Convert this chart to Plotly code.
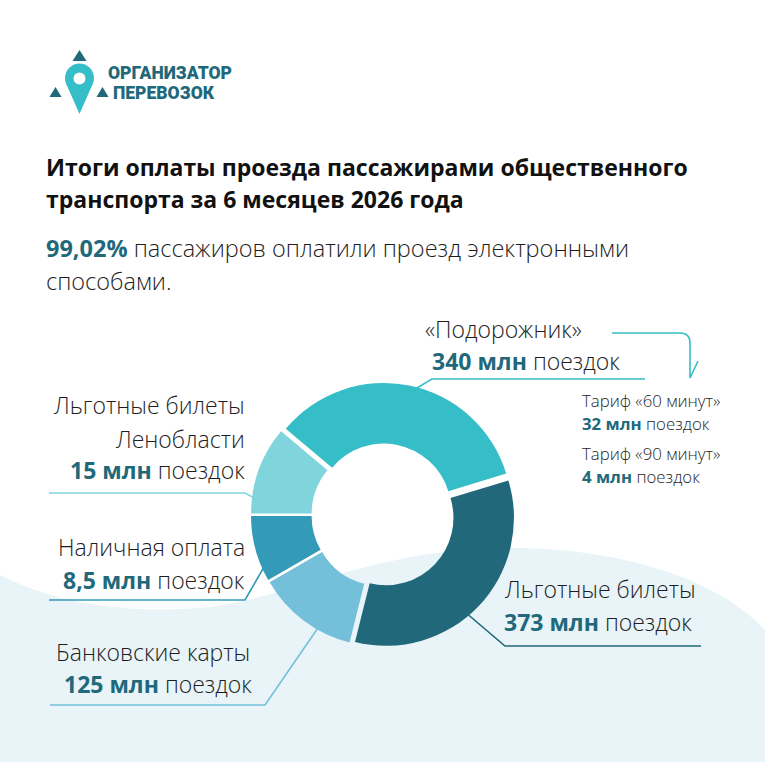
import plotly.graph_objects as go

# ---- data ----
categories = ["«Подорожник»", "Льготные билеты", "Банковские карты",
              "Наличная оплата", "Льготные билеты Ленобласти"]
trips_mln = ["340", "373", "125", "8,5", "15"]          # label values (млн поездок)
slice_share_deg = [123, 121, 46, 30, 40]                # slice sizes as drawn in the picture
tariff_names = ["Тариф «60 минут»", "Тариф «90 минут»"]
tariff_trips = ["32", "4"]
electronic_share = "99,02%"

colors = ["#35BEC8", "#21697A", "#74BFD9", "#339AB7", "#80D5DD"]
DARK = "#21697A"
TXT = "#1e1e1e"
W, H = 765, 762

fig = go.Figure()
# invisible trace so the pixel-based cartesian axes exist
fig.add_trace(go.Scatter(x=[0], y=[0], mode="markers", marker=dict(opacity=0),
                         hoverinfo="skip", showlegend=False))

cx, cy, r0, pull = 383, 515, 128, 0.032
half = r0 * (1 + pull)
fig.add_trace(go.Pie(
    labels=categories, values=slice_share_deg, sort=False, direction="clockwise",
    rotation=-50, hole=0.527, pull=[pull] * 5, textinfo="none",
    marker=dict(colors=colors, line=dict(width=0)),
    domain=dict(x=[(cx - half) / W, (cx + half) / W],
                y=[(H - cy - half) / H, (H - cy + half) / H]),
    showlegend=False, hoverinfo="label"))

shapes = []
# background wave
shapes.append(dict(type="path", layer="below", xref="x", yref="y",
                   path="M 0 575 C 50 600 110 614 200 608 C 280 602 370 550 500 548 "
                        "C 620 546 720 580 765 630 L 765 762 L 0 762 Z",
                   fillcolor="#E8F4F7", line=dict(width=0)))

def line(pts, color, width=1.6):
    p = "M " + " L ".join(f"{x} {y}" for x, y in pts)
    shapes.append(dict(type="path", layer="below", xref="x", yref="y", path=p,
                       line=dict(color=color, width=width)))

# leader lines
line([(645, 379), (432, 379), (405, 395)], colors[0])
line([(49, 493), (245, 493), (262, 502)], colors[4])
line([(49, 600), (245, 600), (268, 560)], colors[3])
line([(50, 705), (265, 705), (320, 625)], colors[2])
line([(701, 646), (505, 646), (465, 612)], colors[1])
# arrow to tariffs
shapes.append(dict(type="path", layer="below", xref="x", yref="y",
                   path="M 612 333 L 680 333 Q 690 333 690 343 L 690 378 L 698 361",
                   line=dict(color=colors[0], width=1.6)))

# logo
shapes.append(dict(type="path", xref="x", yref="y", layer="above",
                   path="M 66.3 84 L 79.5 114 L 92.7 84 Z", fillcolor=colors[0], line=dict(width=0)))
shapes.append(dict(type="circle", xref="x", yref="y", layer="above",
                   x0=65, x1=94, y0=63.5, y1=92.5, fillcolor=colors[0], line=dict(width=0)))
shapes.append(dict(type="circle", xref="x", yref="y", layer="above",
                   x0=73.5, x1=85.5, y0=72.5, y1=84.5, fillcolor="white", line=dict(width=0)))
for tri in ["M 72.5 61 L 79.5 50 L 86.5 61 Z", "M 49.5 97 L 55.5 87 L 61.5 97 Z",
            "M 96.5 97 L 102.5 87 L 108.5 97 Z"]:
    shapes.append(dict(type="path", xref="x", yref="y", layer="above", path=tri,
                       fillcolor=DARK, line=dict(width=0)))

ann = []
def text(x, y, s, size=23, anchor="left", color=TXT, family="Open Sans", weight=300):
    ann.append(dict(x=x, y=y, xref="x", yref="y", text=s, showarrow=False,
                    xanchor=anchor, yanchor="middle",
                    font=dict(size=size, color=color, family=family, weight=weight)))

def b(s):
    return f"<b><span style='color:{DARK}'>{s}</span></b>"

# logo text
text(106, 73, "ОРГАНИЗАТОР", size=17.5, color=DARK, family="Roboto", weight=900)
text(111, 93, "ПЕРЕВОЗОК", size=17.5, color=DARK, family="Roboto", weight=900)

# title
text(44, 167, "Итоги оплаты проезда пассажирами общественного", size=23,
     color="#111111", weight=700)
text(44, 199, "транспорта за 6 месяцев 2026 года", size=23, color="#111111", weight=700)
text(44, 248, b(electronic_share) + " пассажиров оплатили проезд электронными", size=23.5)
text(44, 281, "способами.", size=23.5)

mln = " млн"
# Подорожник
text(423, 329, categories[0], size=23)
text(430, 361, b(trips_mln[0] + mln) + " поездок", size=23)
# tariffs
text(580, 400, tariff_names[0], size=16.8)
text(580, 423, b(tariff_trips[0] + mln) + " поездок", size=16.8)
text(580, 453, tariff_names[1], size=16.8)
text(580, 476, b(tariff_trips[1] + mln) + " поездок", size=16.8)
# Ленобласть
text(247, 405, "Льготные билеты", anchor="right")
text(247, 439, "Ленобласти", anchor="right")
text(247, 470, b(trips_mln[4] + mln) + " поездок", anchor="right")
# наличные
text(247, 547, categories[3], anchor="right")
text(247, 580, b(trips_mln[3] + mln) + " поездок", anchor="right")
# банковские карты
text(252, 652, categories[2], anchor="right")
text(254, 684, b(trips_mln[2] + mln) + " поездок", anchor="right")
# льготные билеты
text(502, 589, categories[1])
text(502, 622, b(trips_mln[1] + mln) + " поездок")

fig.update_layout(
    width=W, height=H, margin=dict(l=0, r=0, t=0, b=0),
    paper_bgcolor="white", plot_bgcolor="rgba(0,0,0,0)",
    xaxis=dict(range=[0, W], visible=False, fixedrange=True),
    yaxis=dict(range=[H, 0], visible=False, fixedrange=True),
    shapes=shapes, annotations=ann, showlegend=False)

fig.write_html("out.html")
